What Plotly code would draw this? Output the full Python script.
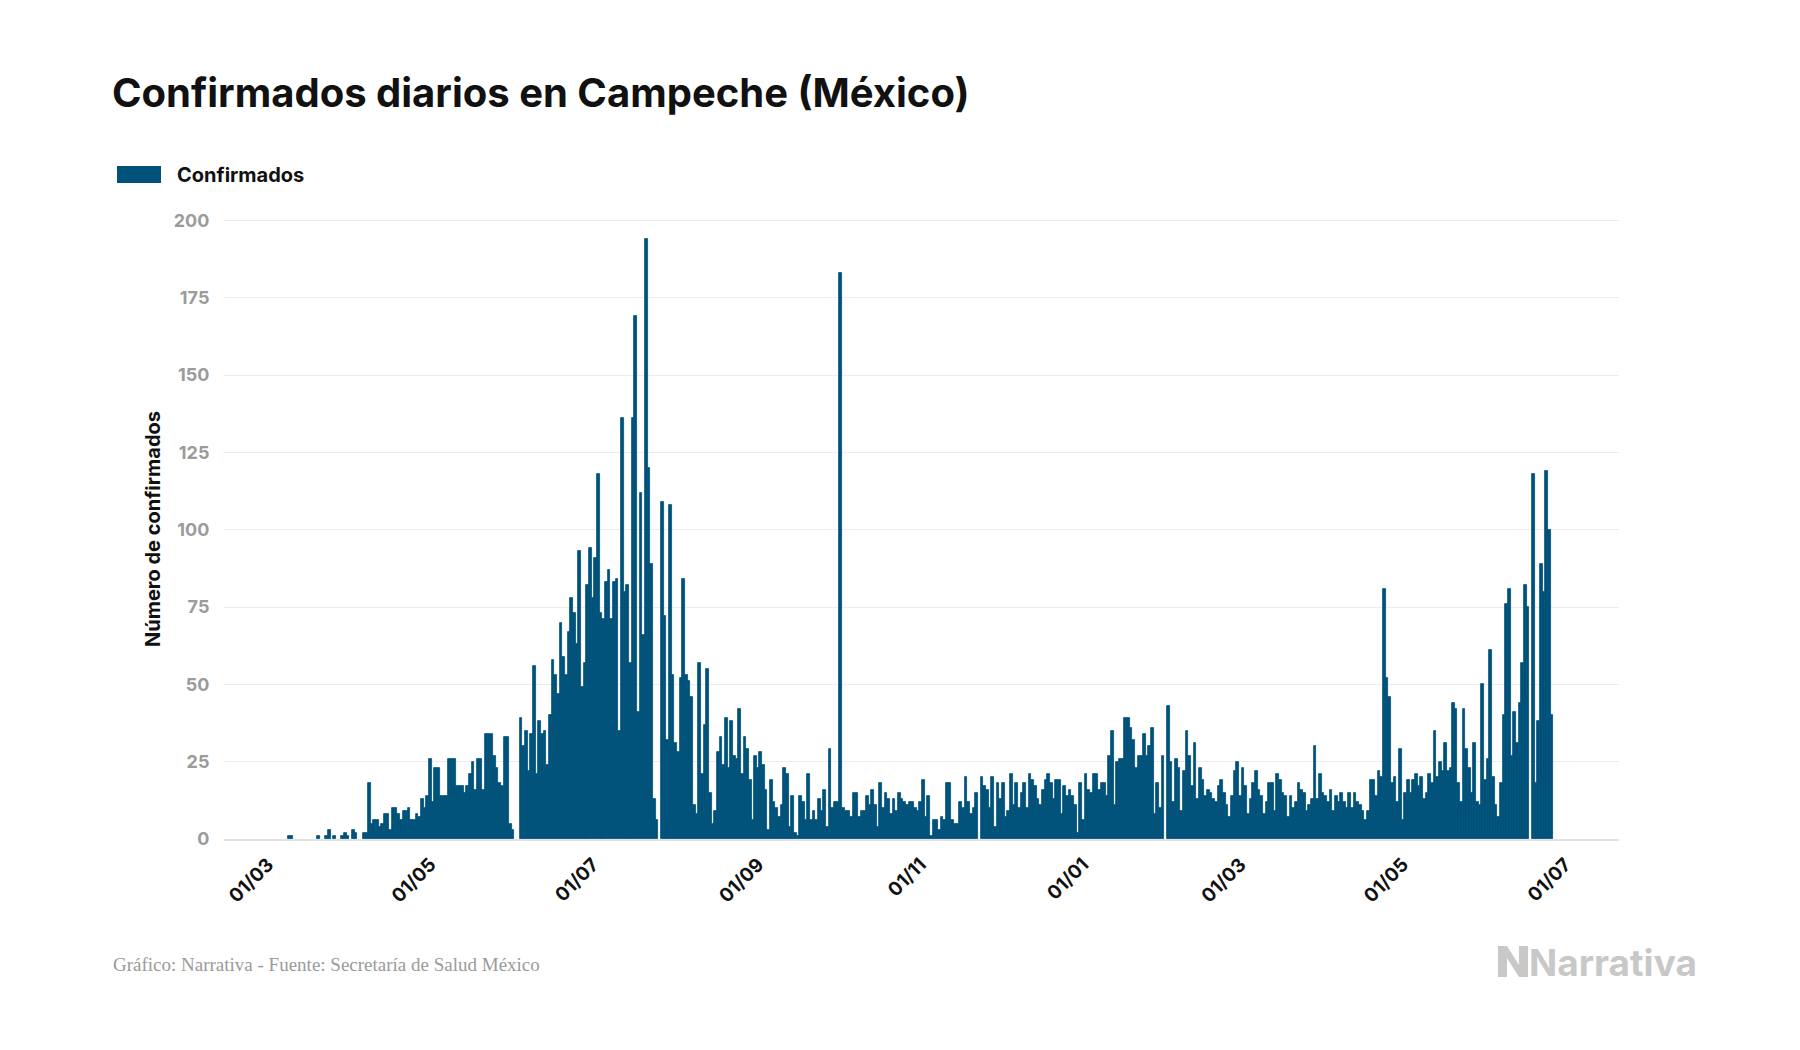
import plotly.graph_objects as go
import pandas as pd

# ---------------- data (daily confirmed cases, Campeche) ----------------
start_date = "2020-03-01"

seg_mar_apr_2020 = [0, 0, 0, 0, 0, 0, 0, 0, 1, 1, 0, 0, 0, 0, 0, 0, 0, 0, 0, 1, 0, 0,
                    1, 3, 0, 1, 0, 0, 1, 2, 1, 0, 3, 2, 0, 0, 2, 2, 18, 5, 6, 6, 4, 5, 8, 8, 3, 10]
seg_apr_jun_2020 = [10, 8, 6, 9, 9, 10, 6, 6, 8, 7, 13, 10, 14, 26, 12, 23, 23, 14, 14, 14,
                    26, 26, 26, 17, 17, 17, 15, 17, 21, 25, 16, 26, 26, 16, 34, 34, 34, 27,
                    23, 18, 17, 33, 33, 5, 3, 0, 0]
seg_jun_jul_2020 = [39, 30, 35, 22, 34, 56, 21, 38, 34, 35, 24, 40, 58, 53, 47, 70, 59, 53,
                    67, 78, 73, 63, 93, 49, 57, 82, 94, 78, 91, 118, 73, 71, 83, 87, 71, 83,
                    84, 35, 136, 80, 82, 57, 136]
seg_jul_aug_2020 = [169, 41, 112, 66, 194, 120, 89, 13, 6, 0, 109, 72, 32, 108, 53, 31, 28,
                    52, 84, 53, 51, 46, 11, 8, 57, 21, 37, 55, 15, 5, 9, 28, 33, 24, 39, 23,
                    38, 27, 26, 42, 21]
seg_aug_sep_2020 = [33, 29, 19, 6, 27, 23, 28, 24, 16, 3, 19, 12, 10, 7, 11, 23, 21, 4, 14,
                    2, 1, 14, 12, 6, 21, 6, 9, 6, 13, 9, 16, 4, 29, 10, 12]
seg_oct_nov_2020 = [12, 183, 10, 9, 9, 7, 15, 15, 7, 9, 9, 14, 11, 16, 11, 4, 18, 10, 15, 13,
                    8, 13, 9, 15, 13, 12, 11, 12, 12, 10, 9, 12, 19, 7, 14, 1, 6, 6, 3, 7, 6,
                    18, 18, 6]
seg_nov_dec_2020 = [5, 5, 12, 10, 20, 12, 8, 10, 15, 0, 20, 17, 16, 10, 20, 4, 18, 13, 18, 7,
                    9, 21, 11, 18, 10, 15, 18, 10, 21, 19, 17, 13, 11, 16, 19, 21, 18, 13, 19,
                    19, 8, 17, 14, 16, 14, 11, 2, 18]
seg_jan_feb_2021 = [6, 21, 16, 15, 21, 21, 16, 18, 18, 14, 27, 35, 11, 25, 26, 26, 39, 39, 36,
                    32, 23, 27, 27, 34, 27, 30, 36, 8, 18, 10, 27, 0, 43, 25, 12, 26, 23, 9,
                    22, 35, 27, 17, 31]
seg_feb_mar_2021 = [13, 23, 19, 14, 16, 15, 13, 12, 17, 19, 15, 11, 7, 14, 22, 25, 14, 23, 17,
                    8, 13, 18, 22, 16, 14, 8, 12, 18, 18, 9, 21, 19, 15, 14, 7, 14, 10, 12,
                    18, 16, 15, 9, 11, 13, 30, 13]
seg_apr_may_2021 = [21, 15, 14, 12, 16, 9, 14, 12, 15, 12, 10, 15, 10, 15, 12, 11, 9, 6, 9,
                    19, 19, 14, 22, 20, 81, 52, 46, 18, 20, 12, 29, 6, 15, 19, 15, 19, 21, 17,
                    20, 13, 15, 21, 18, 35, 20, 25]
seg_may_jun_2021 = [22, 31, 22, 23, 44, 42, 18, 12, 42, 29, 23, 15, 31, 12, 11, 50, 19, 26,
                    61, 20, 11, 7, 18, 40, 76, 81, 27, 41, 31, 44, 57, 82, 75, 0, 118, 18, 38,
                    89, 80, 119, 100, 40]

x_tick_dates = ["2020-03-01", "2020-05-01", "2020-07-01", "2020-09-01", "2020-11-01",
                "2021-01-01", "2021-03-01", "2021-05-01", "2021-07-01"]
x_tick_labels = ["01/03", "01/05", "01/07", "01/09", "01/11", "01/01", "01/03", "01/05", "01/07"]
y_ticks = [0, 25, 50, 75, 100, 125, 150, 175, 200]

series_name = "Confirmados"
title_text = "Confirmados diarios en Campeche (México)"
y_title = "Número de confirmados"
source_text = "Gráfico: Narrativa - Fuente: Secretaría de Salud México"
brand_text = "Narrativa"

values = (seg_mar_apr_2020 + seg_apr_jun_2020 + seg_jun_jul_2020 + seg_jul_aug_2020 +
          seg_aug_sep_2020 + seg_oct_nov_2020 + seg_nov_dec_2020 + seg_jan_feb_2021 +
          seg_feb_mar_2021 + seg_apr_may_2021 + seg_may_jun_2021)
dates = pd.date_range(start_date, periods=len(values), freq="D")

# ---------------- styling ----------------
OFF = 8                      # page body margin
W, H = 1792, 1042
L, R, T, B = 216, 181, 211, 211
PW, PH = W - L - R, H - T - B
BAR = "#00527a"
FONT = "Inter, Lato, 'Noto Sans', sans-serif"


def px(x):
    """page x pixel -> paper x"""
    return (x - OFF - L) / PW


def py(y):
    """page y pixel -> paper y"""
    return (H - B - (y - OFF)) / PH


# thin outline only on non-zero bars so adjacent bars merge without seams
outline_w = [0.8 if v > 0 else 0 for v in values]

fig = go.Figure(go.Bar(x=dates, y=values, name=series_name,
                       marker=dict(color=BAR, line=dict(width=outline_w, color=BAR)),
                       showlegend=False))

fig.update_layout(
    width=W, height=H, autosize=False,
    margin=dict(l=L, r=R, t=T, b=B),
    paper_bgcolor="white", plot_bgcolor="white",
    bargap=0,
    font=dict(family=FONT, color="#111"),
)

fig.update_xaxes(
    type="date",
    range=["2020-02-13 12:00", "2021-07-21 03:00"],
    tickmode="array", tickvals=x_tick_dates, ticktext=x_tick_labels,
    tickangle=-45,
    tickfont=dict(family=FONT, size=19, color="#111", weight="bold"),
    ticks="outside", ticklen=5, tickcolor="rgba(0,0,0,0)",
    showgrid=False, zeroline=False,
    showline=True, linecolor="#e3e3e3", linewidth=2,
)
fig.update_yaxes(
    range=[0, 200.5],
    tickmode="array", tickvals=y_ticks,
    tickfont=dict(family=FONT, size=18, color="#9b9b9b", weight="bold"),
    ticks="outside", ticklen=10, tickcolor="rgba(0,0,0,0)",
    showgrid=True, gridcolor="#ececec", gridwidth=1,
    zeroline=False, showline=False,
    title=dict(text=y_title, font=dict(family=FONT, size=20, color="#111", weight="bold"),
               standoff=7),
)

shapes = []
annotations = []

# title
annotations.append(dict(xref="paper", yref="paper", x=px(110), y=py(92),
                        xanchor="left", yanchor="middle", showarrow=False,
                        text="<b>" + title_text + "</b>",
                        font=dict(family=FONT, size=40, color="#111")))
# legend
shapes.append(dict(type="rect", xref="paper", yref="paper",
                   x0=px(117), x1=px(161), y0=py(183), y1=py(166),
                   fillcolor=BAR, line=dict(width=0)))
annotations.append(dict(xref="paper", yref="paper", x=px(175), y=py(175),
                        xanchor="left", yanchor="middle", showarrow=False,
                        text="<b>" + series_name + "</b>",
                        font=dict(family=FONT, size=20, color="#111")))
# source
annotations.append(dict(xref="paper", yref="paper", x=px(111), y=py(964),
                        xanchor="left", yanchor="middle", showarrow=False,
                        text=source_text,
                        font=dict(family="'Liberation Serif', 'DejaVu Serif', serif",
                                  size=19, color="#9a9a9a")))
# brand
annotations.append(dict(xref="paper", yref="paper", x=px(1527), y=py(962),
                        xanchor="left", yanchor="middle", showarrow=False,
                        text="<b>" + brand_text + "</b>",
                        font=dict(family=FONT, size=37, color="#c8c8c8")))
pts = [(1498, 977), (1498, 946), (1507, 946), (1519, 965), (1519, 946), (1528, 946),
       (1528, 977), (1519, 977), (1507, 958), (1507, 977)]
path = "M " + " L ".join(f"{px(a):.5f},{py(b):.5f}" for a, b in pts) + " Z"
shapes.append(dict(type="path", xref="paper", yref="paper", path=path,
                   fillcolor="#c8c8c8", line=dict(width=0)))

fig.update_layout(shapes=shapes, annotations=annotations)

fig.write_html("out.html")
